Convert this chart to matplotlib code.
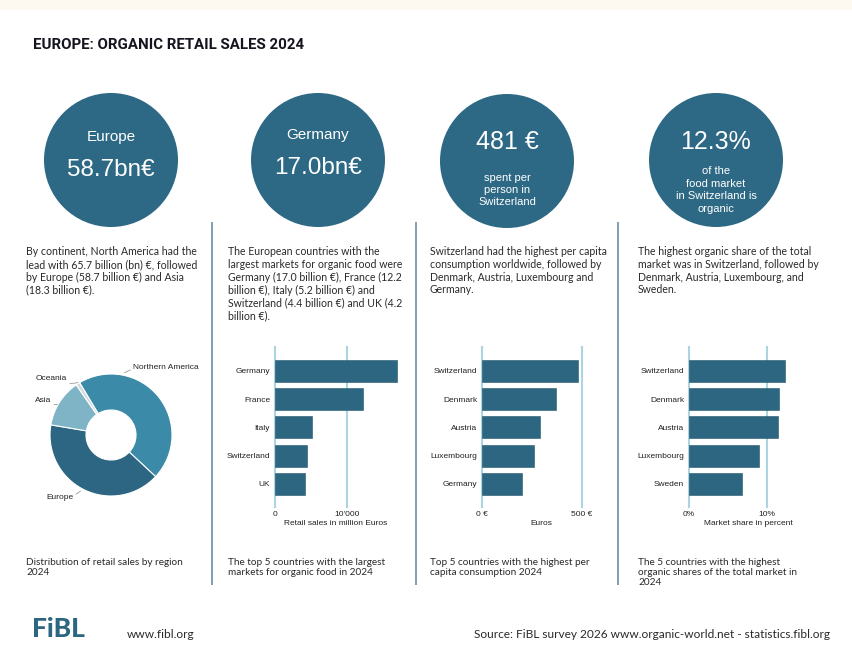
import matplotlib
matplotlib.use("Agg")
import matplotlib.pyplot as plt
from matplotlib.patches import Circle, Rectangle
import numpy as np

# ---------------- data ----------------
title = "EUROPE: ORGANIC RETAIL SALES 2024"

kpi_heads = ["Europe", "Germany", "481 €", "12.3%"]
kpi_values = ["58.7bn€", "17.0bn€", "spent per\nperson in\nSwitzerland",
              "of the\nfood market\nin Switzerland is\norganic"]

descriptions = [
    "By continent, North America had the\nlead with 65.7 billion (bn) €, followed\nby Europe (58.7 billion €) and Asia\n(18.3 billion €).",
    "The European countries with the\nlargest markets for organic food were\nGermany (17.0 billion €), France (12.2\nbillion €), Italy (5.2 billion €) and\nSwitzerland (4.4 billion €) and UK (4.2\nbillion €).",
    "Switzerland had the highest per capita\nconsumption worldwide, followed by\nDenmark, Austria, Luxembourg and\nGermany.",
    "The highest organic share of the total\nmarket was in Switzerland, followed by\nDenmark, Austria, Luxembourg, and\nSweden.",
]
captions = [
    "Distribution of retail sales by region\n2024",
    "The top 5 countries with the largest\nmarkets for organic food in 2024",
    "Top 5 countries with the highest per\ncapita consumption 2024",
    "The 5 countries with the highest\norganic shares of the total market in\n2024",
]

regions = ["Northern America", "Europe", "Asia", "Oceania"]
region_sales = [65.7, 58.7, 18.3, 1.5]

market_countries = ["Germany", "France", "Italy", "Switzerland", "UK"]
market_sales = [17000, 12200, 5200, 4400, 4200]

capita_countries = ["Switzerland", "Denmark", "Austria", "Luxembourg", "Germany"]
capita_values = [481, 370, 290, 260, 202]

share_countries = ["Switzerland", "Denmark", "Austria", "Luxembourg", "Sweden"]
share_values = [12.3, 11.6, 11.4, 9.0, 6.8]

# ---------------- style ----------------
W, H = 853, 662
DARK = "#2d6984"
BAR = "#2c6680"
GRID = "#acd4e1"
SEP = "#7f9fb2"
TXT = "#2a2a2a"
ARIAL = ["Liberation Sans", "DejaVu Sans"]
GILL = ["Lato", "DejaVu Sans"]

fig = plt.figure(figsize=(W / 100, H / 100), dpi=100)
fig.patch.set_facecolor("white")

bg = fig.add_axes([0, 0, 1, 1], zorder=0)
bg.set_xlim(0, W)
bg.set_ylim(H, 0)
bg.axis("off")

bg.add_patch(Rectangle((0, 0), W, 10, color="#fdf8f0", lw=0))
bg.text(33, 45, title, fontsize=10.8, fontweight="bold", color="#15151f",
        family=["Roboto", "DejaVu Sans"], ha="left", va="center")

# KPI circles
centers = [(111, 160), (318, 160), (507, 161), (716, 160)]
for i, (cx, cy) in enumerate(centers):
    bg.add_patch(Circle((cx, cy), 67, color=DARK, lw=0))
bg.text(111, 137, kpi_heads[0], fontsize=11, color="white", family=ARIAL, ha="center", va="center")
bg.text(111, 170, kpi_values[0], fontsize=17.5, color="white", family=ARIAL, ha="center", va="center")
bg.text(318, 135, kpi_heads[1], fontsize=11, color="white", family=ARIAL, ha="center", va="center")
bg.text(318, 168, kpi_values[1], fontsize=17.5, color="white", family=ARIAL, ha="center", va="center")
bg.text(507, 142, kpi_heads[2], fontsize=18, color="white", family=ARIAL, ha="center", va="center")
bg.text(507, 190, kpi_values[2], fontsize=8, color="white", family=ARIAL, ha="center", va="center",
        linespacing=1.25)
bg.text(716, 142, kpi_heads[3], fontsize=18, color="white", family=ARIAL, ha="center", va="center")
bg.text(716, 190, kpi_values[3], fontsize=8, color="white", family=ARIAL, ha="center", va="center",
        linespacing=1.3)

# separators
for x in [212, 416, 618]:
    bg.plot([x, x], [222, 585], color=SEP, lw=1.4, solid_capstyle="butt")

# descriptions and captions
col_x = [26, 228, 430, 638]
for x, d in zip(col_x, descriptions):
    bg.text(x, 246, d, fontsize=7.6, color=TXT, family=GILL, ha="left", va="top", linespacing=1.2)
for x, c in zip(col_x, captions):
    bg.text(x, 558, c, fontsize=7.2, color=TXT, family=GILL, ha="left", va="top", linespacing=1.15)

# footer
bg.text(32, 629, "FiBL", fontsize=19, fontweight="black", color=BAR, family=GILL, ha="left", va="center")
bg.text(127, 635, "www.fibl.org", fontsize=8.6, color=TXT, family=GILL, ha="left", va="center")
bg.text(830, 635, "Source: FiBL survey 2026 www.organic-world.net - statistics.fibl.org",
        fontsize=8.6, color=TXT, family=GILL, ha="right", va="center")

# ---------------- donut ----------------
R = 61
half = R * 1.25
pax = fig.add_axes([(111 - half) / W, 1 - (435 + half) / H, 2 * half / W, 2 * half / H], zorder=2)
wedges, _ = pax.pie(region_sales, colors=["#3a8aa8", "#2d6682", "#7fb4c6", "#d3dbde"],
                    startangle=121, counterclock=False, radius=1,
                    wedgeprops=dict(width=0.59, edgecolor="white", linewidth=0.8))
pax.set_xlim(-1.25, 1.25)
pax.set_ylim(-1.25, 1.25)
pax.set_aspect("equal")
label_spec = {
    "Northern America": ((0.22, 1.02), (0.36, 1.10), "left"),
    "Oceania": ((-0.54, 0.86), (-0.72, 0.93), "right"),
    "Asia": ((-0.88, 0.50), (-0.98, 0.57), "right"),
    "Europe": ((-0.50, -0.92), (-0.62, -1.02), "right"),
}
for name in regions:
    xy, xyt, ha = label_spec[name]
    pax.annotate(name, xy=xy, xytext=xyt, fontsize=6, family=ARIAL, color="#222",
                 ha=ha, va="center",
                 arrowprops=dict(arrowstyle="-", color="#9a9a9a", lw=0.6,
                                 shrinkA=0, shrinkB=0, connectionstyle="arc3,rad=0.2"))


# ---------------- bar panels ----------------
def bar_panel(left, px_per_unit, xmax, cats, vals, ticks, ticklabels, xlabel, label_center):
    top, hpx = 347, 160
    wpx = xmax * px_per_unit
    ax = fig.add_axes([left / W, 1 - (top + hpx) / H, wpx / W, hpx / H], zorder=2)
    ax.patch.set_alpha(0)
    y = np.arange(len(cats))
    ax.barh(y, vals, height=0.78, color=BAR, edgecolor="#24566d", linewidth=0.4, zorder=3)
    ax.set_xlim(0, xmax)
    ax.set_ylim(len(cats) - 1 + 0.82, -0.85)
    ax.set_yticks(y, cats)
    ax.set_xticks(ticks, ticklabels)
    ax.grid(axis="x", color=GRID, lw=1.5)
    ax.grid(axis="y", visible=False)
    for gl in ax.get_xgridlines():
        gl.set_clip_on(False)
    ax.set_axisbelow(True)
    for s in ax.spines.values():
        s.set_visible(False)
    ax.tick_params(axis="y", length=0, labelsize=6, pad=3.5, labelcolor="#222")
    ax.tick_params(axis="x", length=0, labelsize=6, pad=3, labelcolor="#222")
    for t in ax.get_xticklabels() + ax.get_yticklabels():
        t.set_family(ARIAL)
    ax.set_xlabel(xlabel, fontsize=6, family=ARIAL, color="#222")
    ax.xaxis.set_label_coords((label_center - left) / wpx, -13 / hpx)
    return ax


bar_panel(275, 0.0072, 17500, market_countries, market_sales, [0, 10000], ["0", "10'000"],
          "Retail sales in million Euros", 336)
bar_panel(482, 0.2, 560, capita_countries, capita_values, [0, 500], ["0 €", "500 €"],
          "Euros", 541)
bar_panel(689, 7.8, 13.5, share_countries, share_values, [0, 10], ["0%", "10%"],
          "Market share in percent", 748)

fig.savefig("out.png", dpi=100)
